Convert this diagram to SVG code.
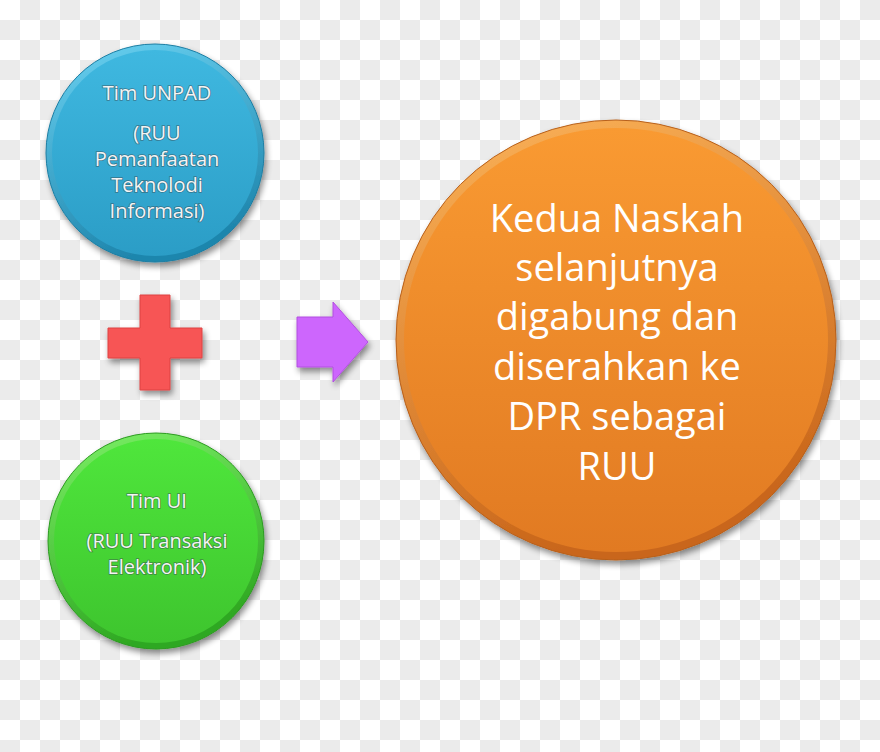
<svg xmlns="http://www.w3.org/2000/svg" width="880" height="752" viewBox="0 0 880 752">
<defs>
<pattern id="checker" x="0" y="0" width="40" height="40" patternUnits="userSpaceOnUse">
<rect width="40" height="40" fill="#ffffff"/>
<rect x="20" y="0" width="20" height="20" fill="#ebebeb"/>
<rect x="0" y="20" width="20" height="20" fill="#ebebeb"/>
</pattern>
<filter id="shadow" x="-20%" y="-20%" width="140%" height="140%">
<feGaussianBlur in="SourceAlpha" stdDeviation="3"/>
<feOffset dx="2" dy="4" result="b"/>
<feComponentTransfer><feFuncA type="linear" slope="0.45"/></feComponentTransfer>
<feMerge><feMergeNode/><feMergeNode in="SourceGraphic"/></feMerge>
</filter>
<linearGradient id="blueRim" x1="0" y1="0" x2="0.3" y2="1"><stop offset="0" stop-color="#6ad2f2"/><stop offset="1" stop-color="#1f86ad"/></linearGradient>
<linearGradient id="blueFace" x1="0" y1="0" x2="0" y2="1"><stop offset="0" stop-color="#3fb8e0"/><stop offset="1" stop-color="#2b9dc6"/></linearGradient>
<linearGradient id="greenRim" x1="0" y1="0" x2="0.3" y2="1"><stop offset="0" stop-color="#7cf066"/><stop offset="1" stop-color="#2fa822"/></linearGradient>
<linearGradient id="greenFace" x1="0" y1="0" x2="0" y2="1"><stop offset="0" stop-color="#4fe63c"/><stop offset="1" stop-color="#3ec52e"/></linearGradient>
<linearGradient id="orangeRim" x1="0" y1="0" x2="0.3" y2="1"><stop offset="0" stop-color="#fcb45a"/><stop offset="1" stop-color="#c9661a"/></linearGradient>
<linearGradient id="orangeFace" x1="0" y1="0" x2="0" y2="1"><stop offset="0" stop-color="#f99a32"/><stop offset="1" stop-color="#e17a22"/></linearGradient>
</defs>
<style>
.small { font-family: "Open Sans", "Liberation Sans", sans-serif; font-size: 20px; fill: #f4f4f4; stroke: #3a4a50; stroke-width: 1.6px; stroke-opacity: 0.55; paint-order: stroke; text-anchor: middle; }
.big { font-family: "Open Sans", "Liberation Sans", sans-serif; font-size: 38px; fill: #ffffff; text-anchor: middle; }
</style>
<rect width="880" height="752" fill="url(#checker)"/>

<g id="node-unpad">
<circle cx="155" cy="153" r="109" fill="url(#blueRim)" stroke="#1d7ea3" stroke-width="1" filter="url(#shadow)"/>
<circle cx="155" cy="153" r="103" fill="url(#blueFace)"/>
<text class="small" x="157" y="100">Tim UNPAD</text>
<text class="small" x="157" y="140">(RUU</text>
<text class="small" x="157" y="166">Pemanfaatan</text>
<text class="small" x="157" y="192">Teknolodi</text>
<text class="small" x="157" y="218">Informasi)</text>
</g>

<g id="node-ui">
<circle cx="156" cy="541" r="108" fill="url(#greenRim)" stroke="#2c9a20" stroke-width="1" filter="url(#shadow)"/>
<circle cx="156" cy="541" r="102" fill="url(#greenFace)"/>
<text class="small" x="157" y="508">Tim UI</text>
<text class="small" x="157" y="548">(RUU Transaksi</text>
<text class="small" x="157" y="574">Elektronik)</text>
</g>

<g id="node-result">
<circle cx="616" cy="340" r="220" fill="url(#orangeRim)" stroke="#b8601a" stroke-width="1" filter="url(#shadow)"/>
<circle cx="616" cy="340" r="212" fill="url(#orangeFace)"/>
<text class="big" x="617" y="232">Kedua Naskah</text>
<text class="big" x="617" y="281">selanjutnya</text>
<text class="big" x="617" y="330">digabung dan</text>
<text class="big" x="617" y="380">diserahkan ke</text>
<text class="big" x="617" y="430">DPR sebagai</text>
<text class="big" x="617" y="480">RUU</text>
</g>

<g id="connectors">
<polygon id="plus" points="140,295 170,295 170,328 202,328 202,358 170,358 170,390 140,390 140,358 108,358 108,328 140,328" fill="#f75454" stroke="#dd4444" stroke-width="1" filter="url(#shadow)"/>
<polygon id="arrow" points="297,317 333,317 333,302 368,342 333,382 333,367 297,367" fill="#cd66fd" stroke="#b24fe0" stroke-width="1" filter="url(#shadow)"/>
</g>
</svg>
